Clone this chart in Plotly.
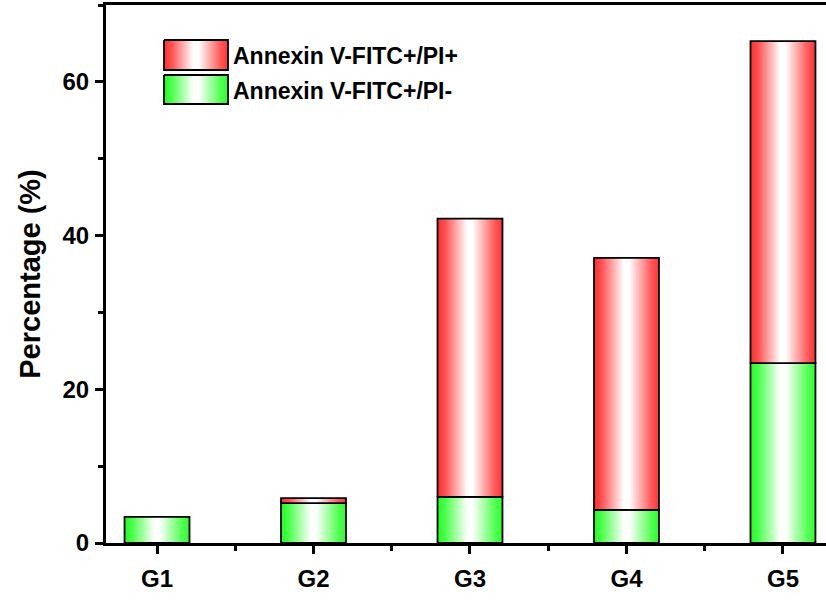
import plotly.graph_objects as go

# ---- data ----
categories = ["G1", "G2", "G3", "G4", "G5"]
pi_neg = [3.4, 5.2, 6.0, 4.3, 23.4]      # Annexin V-FITC+/PI-  (green, bottom)
pi_pos = [0.0, 0.65, 36.2, 32.8, 41.9]   # Annexin V-FITC+/PI+  (red, top)
series_names = ["Annexin V-FITC+/PI+", "Annexin V-FITC+/PI-"]
y_ticks = [0, 20, 40, 60]

# ---- style ----
BAR_W = 0.415
FONT = "Liberation Sans, Arial, sans-serif"
RED_SCALE = [[0, "#ff2c2c"], [0.12, "#ff5252"], [0.46, "#ffffff"], [0.54, "#ffffff"],
             [0.88, "#ff5a5a"], [1, "#ff3434"]]
GREEN_SCALE = [[0, "#1cff1c"], [0.12, "#4cff4c"], [0.46, "#ffffff"], [0.54, "#ffffff"],
               [0.88, "#55ff55"], [1, "#2aff2a"]]

fig = go.Figure()


def seg(xc, base, top, scale, name, xa="x", ya="y", w=BAR_W):
    x0, x1 = xc - w / 2, xc + w / 2
    return go.Scatter(
        x=[x0, x0, x1, x1, x0], y=[base, top, top, base, base],
        mode="lines", fill="toself",
        fillgradient=dict(type="horizontal", colorscale=scale),
        line=dict(color="black", width=1.8),
        xaxis=xa, yaxis=ya, name=name, showlegend=False, hoveron="fills",
    )


for i, cat in enumerate(categories):
    g = pi_neg[i]
    r = pi_pos[i]
    fig.add_trace(seg(i, 0, g, GREEN_SCALE, series_names[1]))
    if r > 0:
        fig.add_trace(seg(i, g, g + r, RED_SCALE, series_names[0]))

# ---- manual legend on an overlay axis in pixel-like units ----
LEG_X0, LEG_X1 = 164, 228
LEG_ROWS = [(40, 70, RED_SCALE), (75, 104, GREEN_SCALE)]
for (y0, y1, sc), nm in zip(LEG_ROWS, series_names):
    fig.add_trace(go.Scatter(
        x=[LEG_X0, LEG_X0, LEG_X1, LEG_X1, LEG_X0], y=[y0, y1, y1, y0, y0],
        mode="lines", fill="toself",
        fillgradient=dict(type="horizontal", colorscale=sc),
        line=dict(color="black", width=1.8), xaxis="x2", yaxis="y2",
        showlegend=False, hoverinfo="skip"))
    fig.add_annotation(x=LEG_X1 + 3, y=(y0 + y1) / 2 + 1, xref="x2", yref="y2",
                       text=nm, showarrow=False, xanchor="left", yanchor="middle",
                       font=dict(family=FONT, size=23, color="black", weight="bold"))

axis_font = dict(family=FONT, size=24, color="black", weight="bold")

fig.update_layout(
    width=826, height=600,
    margin=dict(l=106, r=0, t=5, b=57),
    plot_bgcolor="white", paper_bgcolor="white",
    showlegend=False,
    xaxis=dict(
        range=[-0.326, 4.275], tickmode="array", tickvals=list(range(len(categories))),
        ticktext=categories, showgrid=False, zeroline=False, automargin=False,
        showline=True, linecolor="black", linewidth=3, mirror=True,
        ticks="outside", ticklen=8, tickwidth=3, tickcolor="black",
        minor=dict(tickvals=[0.5, 1.5, 2.5, 3.5], ticks="outside", ticklen=5,
                   tickwidth=2.5, tickcolor="black"),
        tickfont=axis_font, ticklabelstandoff=4,
    ),
    yaxis=dict(
        range=[0, 70.0], tickmode="array", tickvals=y_ticks, showgrid=False,
        zeroline=False, showline=True, linecolor="black", linewidth=3, automargin=False,
        ticks="outside", ticklen=8, tickwidth=3, tickcolor="black",
        minor=dict(dtick=10, tick0=0, ticks="outside", ticklen=5, tickwidth=2.5,
                   tickcolor="black"),
        tickfont=axis_font, ticklabelstandoff=1,
        title=dict(text="Percentage (%)", font=dict(family=FONT, size=29, color="black",
                                                     weight="bold"), standoff=14),
    ),
    xaxis2=dict(range=[106, 826], domain=[0, 1], overlaying="x", visible=False,
                anchor="y2"),
    yaxis2=dict(range=[543, 5], domain=[0, 1], overlaying="y", visible=False,
                anchor="x2"),
)

fig.write_html("out.html", config={"displayModeBar": False},
               post_script="document.body.style.margin='0';document.body.style.overflow='hidden';")
